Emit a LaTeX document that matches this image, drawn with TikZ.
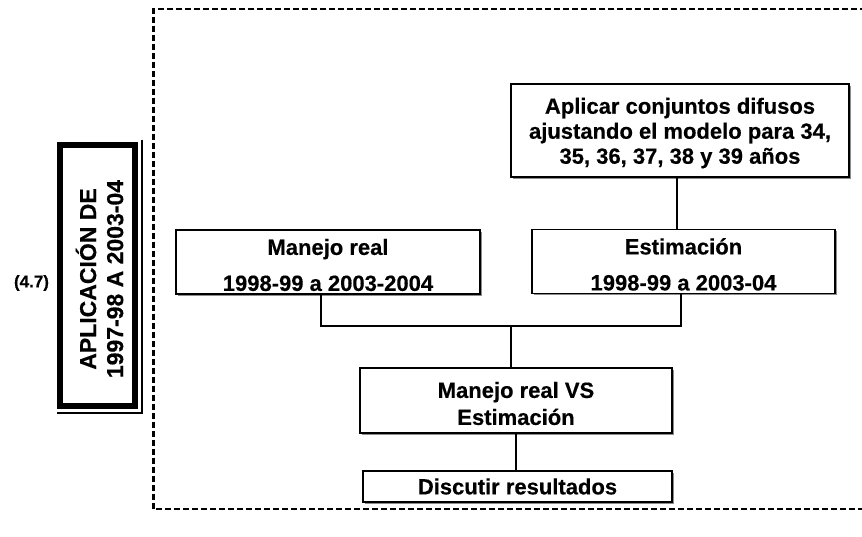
\documentclass[tikz,border=0pt]{standalone}
\usepackage{fontspec}
\setmainfont{Liberation Sans}[BoldFeatures={FakeBold=0.4}]
\usetikzlibrary{shadows}
\newcommand{\lift}[1]{\rule{0pt}{#1}}
\begin{document}
\begin{tikzpicture}[x=1pt,y=-1pt,
  box/.style={draw, line width=1.3pt, fill=white, inner sep=0pt, align=center,
    font=\fontsize{22}{25}\selectfont\bfseries,
    drop shadow={shadow xshift=1.5pt, shadow yshift=-1.5pt, fill=black!45, opacity=1}},
  link/.style={line width=1.3pt}]
\useasboundingbox (0,0) rectangle (862,536);
\fill[white] (0,0) rectangle (862,536);
% dashed frame
\draw[line width=2.4pt, dash pattern=on 6pt off 3pt] (866,9) -- (153.5,9) -- (153.5,509) -- (866,509);
% left framed title
\node[draw, line width=6pt, minimum width=75pt, minimum height=261pt, inner sep=0pt] (frame) at (97,275) {};
\draw[line width=1.2pt] ([xshift=4.5pt,yshift=2pt]frame.north east) -- ([xshift=4.5pt,yshift=-4.5pt]frame.south east) -- ([yshift=-4.5pt]frame.south west);
\node[rotate=90, align=center, inner sep=0pt, font=\fontsize{23}{27}\selectfont\bfseries] (title) at (99.5,279) {APLICACIÓN DE\\1997-98 A 2003-04};
\node[inner sep=0pt, font=\fontsize{17}{19}\selectfont\bfseries] (num) at (31.5,283) {(4.7)};
% boxes
\node[box, minimum width=338pt, minimum height=93pt] (apl) at (680,130.5) {\lift{21pt}Aplicar conjuntos difusos\\ajustando el modelo para 34,\\35, 36, 37, 38 y 39 años};
\node[box, minimum width=303pt, minimum height=64pt] (est) at (683.5,261.5) {\lift{22pt}Estimación\\[11pt]1998-99 a 2003-04};
\node[box, minimum width=304pt, minimum height=64pt] (man) at (328,262) {\lift{22pt}Manejo real\\[11pt]1998-99 a 2003-2004};
\node[box, minimum width=312pt, minimum height=65pt] (vs) at (516,400.5) {\lift{22pt}Manejo real VS\\[2pt]Estimación};
\node[box, minimum width=309pt, minimum height=31pt] (dis) at (517.5,486.5) {Discutir resultados};
% connectors
\coordinate (j) at (511,326);
\draw[link] ([xshift=-3pt]apl.south) -- ([xshift=-3pt]apl.south |- est.north);
\draw[link] ([xshift=-7pt]man.south) |- (j) -| ([xshift=-2.5pt]est.south);
\draw[link] (j) -- (j |- vs.north);
\draw[link] (vs.south) -- (vs.south |- dis.north);
\end{tikzpicture}
\end{document}
